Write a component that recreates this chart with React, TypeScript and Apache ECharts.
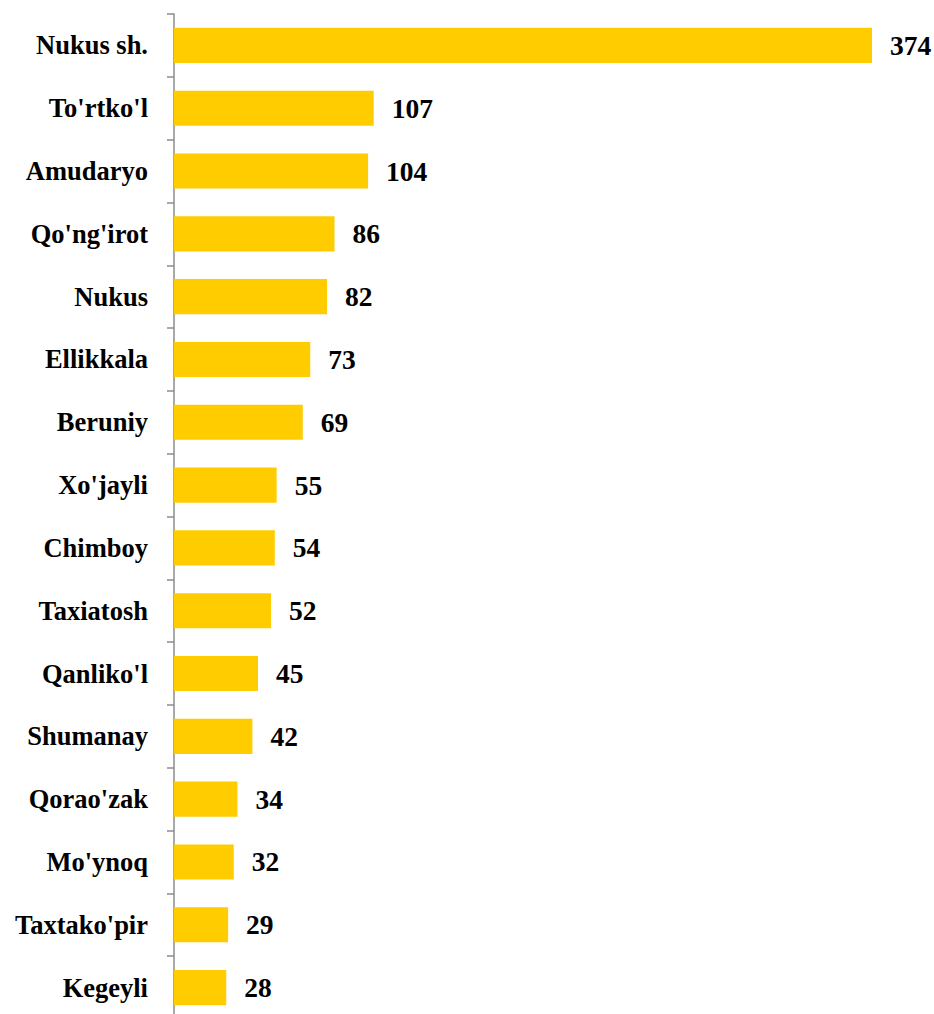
import React, { useEffect, useRef } from "react";
import * as echarts from "echarts";

const categories = [
  "Nukus sh.", "To'rtko'l", "Amudaryo", "Qo'ng'irot", "Nukus", "Ellikkala",
  "Beruniy", "Xo'jayli", "Chimboy", "Taxiatosh", "Qanliko'l", "Shumanay",
  "Qorao'zak", "Mo'ynoq", "Taxtako'pir", "Kegeyli",
];
const values = [374, 107, 104, 86, 82, 73, 69, 55, 54, 52, 45, 42, 34, 32, 29, 28];

export default function App() {
  const ref = useRef<HTMLDivElement>(null);
  useEffect(() => {
    if (!ref.current) return;
    const chart = echarts.init(ref.current, null, { renderer: "svg" });
    chart.setOption({
      animation: false,
      backgroundColor: "#ffffff",
      grid: { left: 174, right: 62, top: 14, bottom: 11, containLabel: false },
      xAxis: {
        type: "value",
        min: 0,
        max: 374,
        show: false,
      },
      yAxis: {
        type: "category",
        data: categories,
        inverse: true,
        axisLine: { show: true, lineStyle: { color: "#8c8c8c", width: 1.5 } },
        axisTick: { show: true, inside: false, length: 7, lineStyle: { color: "#8c8c8c", width: 1.5 } },
        axisLabel: {
          margin: 26,
          color: "#000",
          fontFamily: "Liberation Serif",
          fontWeight: "bold",
          fontSize: 26.5,
        },
        splitLine: { show: false },
      },
      series: [
        {
          type: "bar",
          data: values,
          barCategoryGap: "44%",
          itemStyle: { color: "#FFCC00" },
          label: {
            show: true,
            position: "right",
            distance: 18,
            color: "#000",
            fontFamily: "Liberation Serif",
            fontWeight: "bold",
            fontSize: 27.5,
          },
        },
      ],
    });
    return () => chart.dispose();
  }, []);
  return (
    <div
      ref={ref}
      style={{ position: "absolute", left: 0, top: 0, width: 934, height: 1030 }}
    />
  );
}
